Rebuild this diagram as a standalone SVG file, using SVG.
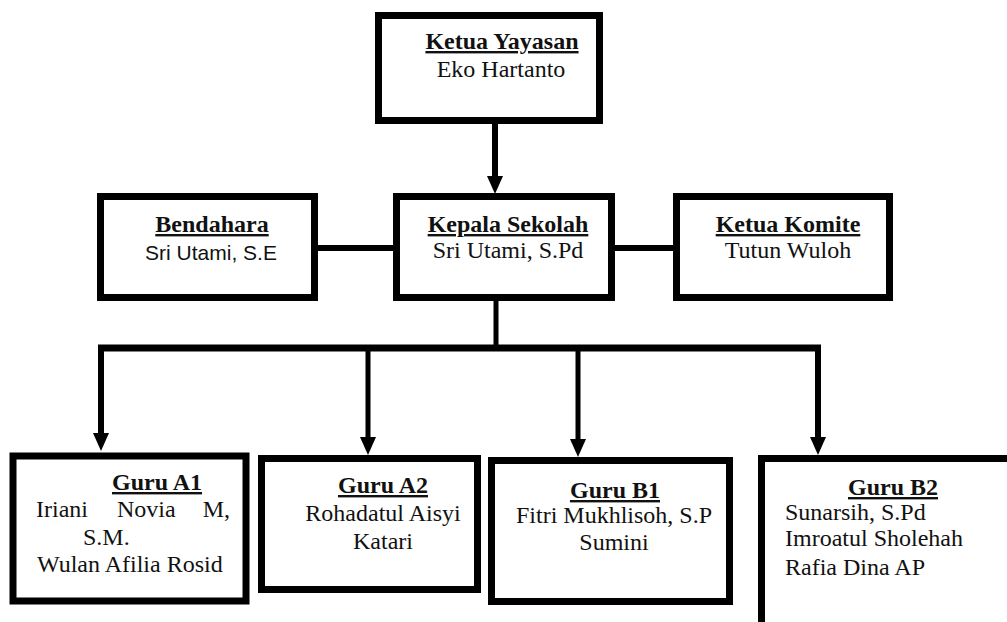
<svg xmlns="http://www.w3.org/2000/svg" width="1007" height="622" viewBox="0 0 1007 622">
<style>
.box{fill:#fff;stroke:#000;stroke-width:7}
.t{font-family:"Liberation Serif","Times New Roman",serif;font-size:24px;fill:#111}
.h{font-weight:bold;text-decoration:underline}
.c{text-anchor:middle}
.s{font-family:"Liberation Sans",Arial,sans-serif;font-size:21px;fill:#111}
.ln{stroke:#000;fill:none}
</style>
<defs>
<marker id="ah" markerUnits="userSpaceOnUse" markerWidth="18" markerHeight="18" refX="4" refY="8" orient="auto">
<path d="M0,0 L18,8 L0,16 z" fill="#000"/>
</marker>
</defs>
<rect width="1007" height="622" fill="#fff"/>
<g id="connectors">
<line class="ln" x1="495" y1="124" x2="495" y2="180" stroke-width="6" marker-end="url(#ah)"/>
<line class="ln" x1="318" y1="248" x2="393" y2="248" stroke-width="6"/>
<line class="ln" x1="615" y1="248" x2="673" y2="248" stroke-width="6"/>
<line class="ln" x1="496" y1="301" x2="496" y2="348" stroke-width="5"/>
<line class="ln" x1="98" y1="348" x2="821" y2="348" stroke-width="7"/>
<line class="ln" x1="101" y1="345" x2="101" y2="437" stroke-width="6" marker-end="url(#ah)"/>
<line class="ln" x1="368" y1="348" x2="368" y2="441" stroke-width="5" marker-end="url(#ah)"/>
<line class="ln" x1="578" y1="348" x2="578" y2="443" stroke-width="5" marker-end="url(#ah)"/>
<line class="ln" x1="818" y1="345" x2="818" y2="441" stroke-width="6" marker-end="url(#ah)"/>
</g>
<g id="ketua-yayasan">
<rect class="box" x="378.5" y="15.5" width="221" height="105"/>
<text class="t h c" x="502" y="49">Ketua Yayasan</text>
<text class="t c" x="501" y="77">Eko Hartanto</text>
</g>
<g id="bendahara">
<rect class="box" x="100.5" y="196.5" width="214" height="101"/>
<text class="t h c" x="212" y="232">Bendahara</text>
<text class="s c" x="211" y="260">Sri Utami, S.E</text>
</g>
<g id="kepala-sekolah">
<rect class="box" x="396.5" y="196.5" width="215" height="101"/>
<text class="t h c" x="508" y="232">Kepala Sekolah</text>
<text class="t c" x="508" y="258">Sri Utami, S.Pd</text>
</g>
<g id="ketua-komite">
<rect class="box" x="676.5" y="196.5" width="213" height="101"/>
<text class="t h c" x="788" y="232">Ketua Komite</text>
<text class="t c" x="788" y="258">Tutun Wuloh</text>
</g>
<g id="guru-a1">
<rect class="box" x="13" y="456" width="233" height="145" stroke-width="8"/>
<text class="t h c" x="157" y="490">Guru A1</text>
<text class="t" y="517"><tspan x="36">Iriani</tspan><tspan x="117">Novia</tspan><tspan x="230" text-anchor="end">M,</tspan></text>
<text class="t" x="83" y="545">S.M.</text>
<text class="t" x="37" y="572">Wulan Afilia Rosid</text>
</g>
<g id="guru-a2">
<rect class="box" x="261.5" y="458.5" width="216" height="131"/>
<text class="t h c" x="383" y="493">Guru A2</text>
<text class="t c" x="383" y="521">Rohadatul Aisyi</text>
<text class="t c" x="383" y="549">Katari</text>
</g>
<g id="guru-b1">
<rect class="box" x="491.5" y="460.5" width="238" height="141"/>
<text class="t h c" x="615" y="498">Guru B1</text>
<text class="t c" x="614" y="523">Fitri Mukhlisoh, S.P</text>
<text class="t c" x="614" y="550">Sumini</text>
</g>
<g id="guru-b2">
<rect class="box" x="761.5" y="458.5" width="300" height="200"/>
<text class="t h c" x="893" y="495">Guru B2</text>
<text class="t" x="785" y="520">Sunarsih, S.Pd</text>
<text class="t" x="785" y="546">Imroatul Sholehah</text>
<text class="t" x="785" y="575">Rafia Dina AP</text>
</g>
</svg>
